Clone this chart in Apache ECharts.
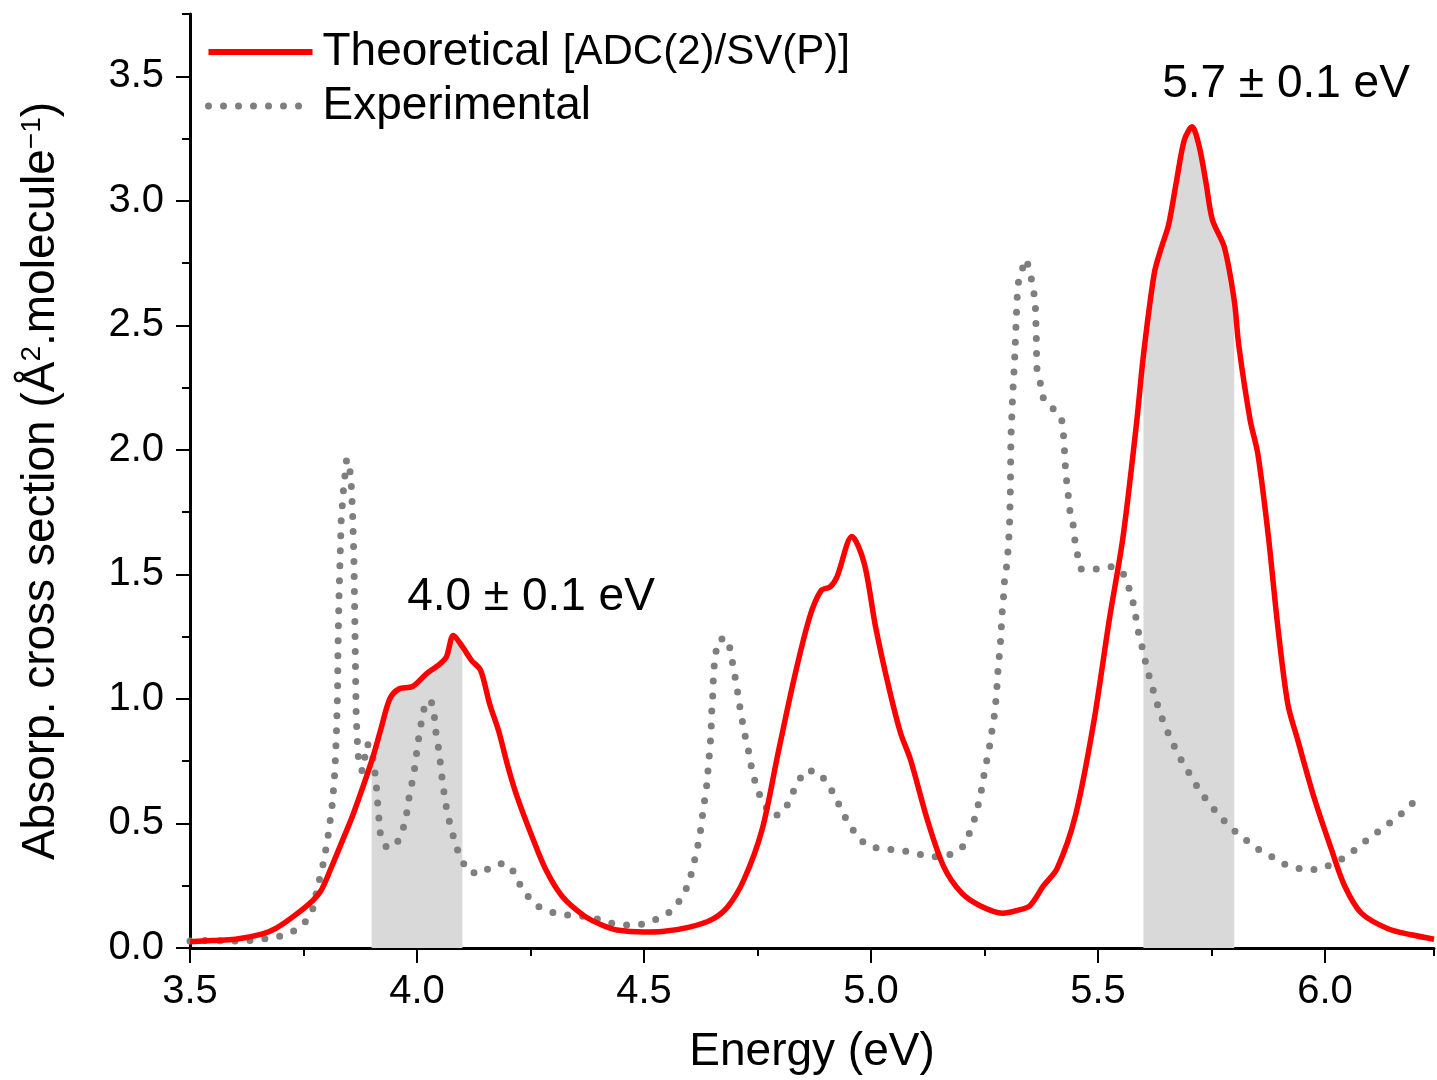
<!DOCTYPE html>
<html><head><meta charset="utf-8">
<script src="https://cdn.jsdelivr.net/npm/echarts@6/dist/echarts.min.js"></script>
<style>html,body{margin:0;padding:0;background:#fff}#c{width:1437px;height:1080px}</style>
</head><body><div id="c"></div>
<script>
// ---- data ----
const theoryEnergy = [3.50,3.55,3.60,3.66,3.69,3.73,3.77,3.79,3.815,3.84,3.86,3.90,3.92,3.94,3.96,3.99,4.02,4.05,4.065,4.08,4.10,4.12,4.14,4.16,4.18,4.20,4.22,4.255,4.285,4.32,4.37,4.41,4.44,4.50,4.54,4.60,4.65,4.685,4.72,4.76,4.795,4.83,4.865,4.89,4.91,4.925,4.958,4.985,5.01,5.04,5.065,5.087,5.124,5.16,5.20,5.24,5.29,5.32,5.35,5.38,5.41,5.45,5.49,5.525,5.555,5.585,5.60,5.624,5.64,5.655,5.672,5.69,5.707,5.723,5.738,5.752,5.778,5.80,5.81,5.835,5.852,5.875,5.896,5.918,5.94,5.977,6.014,6.043,6.08,6.14,6.19,6.24];
const theoryValue = [0.025,0.030,0.035,0.057,0.080,0.130,0.190,0.235,0.34,0.45,0.54,0.75,0.876,1.00,1.04,1.05,1.10,1.14,1.17,1.255,1.21,1.155,1.115,0.98,0.87,0.73,0.61,0.44,0.31,0.207,0.127,0.09,0.072,0.064,0.066,0.084,0.115,0.167,0.274,0.475,0.78,1.077,1.33,1.435,1.45,1.49,1.652,1.545,1.29,1.04,0.863,0.756,0.515,0.327,0.22,0.17,0.14,0.15,0.17,0.25,0.32,0.53,0.90,1.32,1.65,2.11,2.38,2.71,2.815,2.90,3.07,3.244,3.297,3.217,3.07,2.923,2.815,2.60,2.42,2.12,1.984,1.656,1.29,0.98,0.834,0.597,0.396,0.25,0.14,0.076,0.053,0.035];
const exptEnergy = [3.50,3.53,3.595,3.63,3.665,3.697,3.727,3.752,3.77,3.785,3.795,3.805,3.814,3.819,3.822,3.825,3.826,3.828,3.83,3.833,3.838,3.845,3.852,3.855,3.858,3.861,3.863,3.865,3.866,3.868,3.872,3.88,3.89,3.90,3.909,3.914,3.917,3.92,3.934,3.957,3.971,3.978,3.983,3.99,3.996,4.0,4.005,4.011,4.018,4.031,4.038,4.041,4.044,4.049,4.053,4.057,4.062,4.068,4.077,4.086,4.099,4.114,4.141,4.166,4.193,4.215,4.227,4.243,4.266,4.299,4.333,4.366,4.40,4.432,4.467,4.50,4.531,4.559,4.582,4.598,4.607,4.615,4.622,4.627,4.631,4.637,4.64,4.643,4.646,4.648,4.649,4.651,4.652,4.654,4.657,4.667,4.685,4.692,4.698,4.704,4.709,4.715,4.721,4.729,4.735,4.743,4.753,4.767,4.787,4.81,4.824,4.837,4.856,4.88,4.902,4.919,4.933,4.948,4.966,4.988,5.02,5.054,5.088,5.121,5.147,5.179,5.204,5.22,5.231,5.239,5.246,5.251,5.259,5.264,5.27,5.274,5.277,5.279,5.282,5.285,5.287,5.289,5.292,5.294,5.299,5.302,5.305,5.307,5.308,5.312,5.316,5.32,5.323,5.331,5.342,5.351,5.358,5.362,5.364,5.365,5.373,5.38,5.402,5.42,5.424,5.426,5.428,5.431,5.434,5.437,5.445,5.449,5.455,5.462,5.496,5.531,5.555,5.568,5.578,5.584,5.59,5.599,5.606,5.615,5.625,5.635,5.647,5.662,5.676,5.694,5.712,5.732,5.753,5.776,5.799,5.826,5.853,5.884,5.915,5.951,5.985,6.016,6.043,6.07,6.094,6.122,6.151,6.176,6.198];
const exptValue = [0.028,0.03,0.028,0.03,0.037,0.047,0.067,0.10,0.154,0.274,0.35,0.46,0.586,0.709,0.836,1.023,1.21,1.398,1.531,1.716,1.839,1.963,1.922,1.866,1.752,1.565,1.317,1.063,0.936,0.85,0.73,0.71,0.82,0.80,0.682,0.568,0.50,0.445,0.401,0.425,0.488,0.548,0.611,0.673,0.736,0.796,0.859,0.921,0.983,0.994,0.935,0.872,0.843,0.782,0.718,0.655,0.592,0.531,0.468,0.408,0.35,0.305,0.298,0.33,0.341,0.303,0.254,0.21,0.167,0.143,0.132,0.127,0.116,0.098,0.091,0.096,0.118,0.147,0.198,0.257,0.318,0.381,0.441,0.504,0.566,0.631,0.693,0.756,0.819,0.883,0.945,0.996,1.057,1.12,1.181,1.241,1.241,1.177,1.114,1.054,0.99,0.927,0.865,0.803,0.74,0.678,0.622,0.568,0.528,0.552,0.608,0.662,0.713,0.709,0.669,0.615,0.562,0.508,0.459,0.415,0.398,0.394,0.385,0.37,0.365,0.378,0.41,0.475,0.535,0.598,0.659,0.722,0.785,0.848,0.909,0.972,1.037,1.10,1.162,1.224,1.288,1.351,1.414,1.475,1.538,1.601,1.69,1.847,2.039,2.222,2.35,2.532,2.66,2.718,2.766,2.706,2.642,2.577,2.459,2.331,2.267,2.203,2.163,2.121,2.057,1.999,1.935,1.871,1.825,1.765,1.701,1.637,1.577,1.522,1.522,1.531,1.506,1.446,1.382,1.321,1.259,1.195,1.135,1.075,1.013,0.953,0.892,0.834,0.777,0.723,0.666,0.611,0.562,0.514,0.473,0.433,0.396,0.365,0.332,0.315,0.315,0.337,0.363,0.40,0.436,0.474,0.514,0.551,0.591];
const shadeRanges = [[3.9, 4.1], [5.6, 5.8]];
const xMajorTicks = [3.5, 4.0, 4.5, 5.0, 5.5, 6.0];
const yMajorTicks = [0, 0.5, 1.0, 1.5, 2.0, 2.5, 3.0, 3.5];
const seriesNames = ['Theoretical', 'Experimental'];
const annotationTexts = ['4.0 \u00b1 0.1 eV', '5.7 \u00b1 0.1 eV'];

// ---- build ----
const FONT = "'Liberation Sans', Arial, sans-serif";
const RED = '#ff0000', GREY = '#7f7f7f';
const theory = theoryEnergy.map((e, i) => [e, theoryValue[i]]);
const expt = exptEnergy.map((e, i) => [e, exptValue[i]]);
const shadeSeries = shadeRanges.map(r => ({
  type: 'line', name: 'shade', silent: true, symbol: 'none', smooth: 0.3,
  data: theory.filter(p => p[0] >= r[0] - 1e-9 && p[0] <= r[1] + 1e-9),
  lineStyle: { width: 0, opacity: 0 },
  areaStyle: { color: '#d9d9d9', opacity: 1 },
  z: 1
}));
const isMajor = v => Math.abs(v * 2 - Math.round(v * 2)) < 1e-6;
const dotted = { color: GREY, width: 7, type: [0, 15], cap: 'round' };

const chart = echarts.init(document.getElementById('c'), null, { renderer: 'canvas' });
chart.setOption({
  animation: false,
  backgroundColor: '#fff',
  textStyle: { fontFamily: FONT },
  grid: { left: 190, right: -2, top: 14, bottom: 132, containLabel: false },
  xAxis: [{
    type: 'value', min: 3.5, max: 6.24, interval: 0.25,
    name: 'Energy (eV)', nameLocation: 'middle', nameGap: 81,
    nameTextStyle: { fontSize: 46, color: '#000', fontFamily: FONT },
    axisLine: { show: true, onZero: false, lineStyle: { color: '#000', width: 3 } },
    axisTick: { show: true, inside: false, length: 8, lineStyle: { color: '#000', width: 2 } },
    axisLabel: { margin: 24, fontSize: 40, color: '#000', fontFamily: FONT,
      formatter: v => isMajor(v) ? v.toFixed(1) : '' },
    splitLine: { show: false }
  }, {
    type: 'value', min: 3.5, max: 6.24, interval: 0.5, position: 'bottom',
    axisLine: { show: false },
    axisTick: { show: true, length: 15, lineStyle: { color: '#000', width: 2 }, customValues: xMajorTicks },
    axisLabel: { show: false }, splitLine: { show: false }
  }],
  yAxis: [{
    type: 'value', min: 0, max: 3.75, interval: 0.25,
    name: 'Absorp. cross section ({n|\u00c5}{sup|2}{n|.molecule}{sup|\u22121}{n|)}',
    nameLocation: 'middle', nameGap: 126, nameRotate: 90,
    nameTextStyle: { fontSize: 46, color: '#000', fontFamily: FONT,
      rich: {
        n: { fontSize: 46, color: '#000', fontFamily: FONT },
        sup: { fontSize: 28, color: '#000', fontFamily: FONT, verticalAlign: 'top', padding: [0, 0, 18, 0] }
      } },
    axisLine: { show: true, onZero: false, lineStyle: { color: '#000', width: 3 } },
    axisTick: { show: true, length: 8, lineStyle: { color: '#000', width: 2 } },
    axisLabel: { margin: 26, fontSize: 40, color: '#000', fontFamily: FONT,
      formatter: v => (isMajor(v) && v <= 3.5 + 1e-9) ? v.toFixed(1) : '' },
    splitLine: { show: false }
  }, {
    type: 'value', min: 0, max: 3.75, interval: 0.5, position: 'left',
    axisLine: { show: false },
    axisTick: { show: true, length: 14, lineStyle: { color: '#000', width: 2 }, customValues: yMajorTicks },
    axisLabel: { show: false }, splitLine: { show: false }
  }],
  legend: {
    orient: 'vertical', left: 200, top: 22, itemGap: 4,
    itemWidth: 104, itemHeight: 20,
    itemStyle: { color: 'rgba(0,0,0,0)', borderWidth: 0, opacity: 0 },
    data: [
      { name: seriesNames[0], lineStyle: { color: RED, width: 6 } },
      { name: seriesNames[1], lineStyle: dotted }
    ],
    formatter: n => n === seriesNames[0] ? '{a|Theoretical} {b|[ADC(2)/SV(P)]}' : '{a|Experimental}',
    textStyle: { color: '#000', fontFamily: FONT, fontSize: 46, lineHeight: 50, padding: [0, 0, 0, 5],
      rich: { a: { fontSize: 46, fontFamily: FONT, color: '#000' }, b: { fontSize: 42, fontFamily: FONT, color: '#000' } } }
  },
  series: [
    ...shadeSeries,
    {
      type: 'line', name: seriesNames[1], data: expt, symbol: 'none', z: 3,
      lineStyle: dotted,
      itemStyle: { color: GREY }
    },
    {
      type: 'line', name: seriesNames[0], data: theory, symbol: 'none', smooth: 0.3, z: 4,
      lineStyle: { color: RED, width: 5.5 },
      itemStyle: { color: RED }
    }
  ],
  graphic: [
    { type: 'text', z: 10, style: { text: annotationTexts[0], x: 531, y: 597, font: '46px ' + FONT, fill: '#000', textAlign: 'center', textVerticalAlign: 'middle' } },
    { type: 'text', z: 10, style: { text: annotationTexts[1], x: 1286, y: 84, font: '46px ' + FONT, fill: '#000', textAlign: 'center', textVerticalAlign: 'middle' } }
  ]
});
</script></body></html>
